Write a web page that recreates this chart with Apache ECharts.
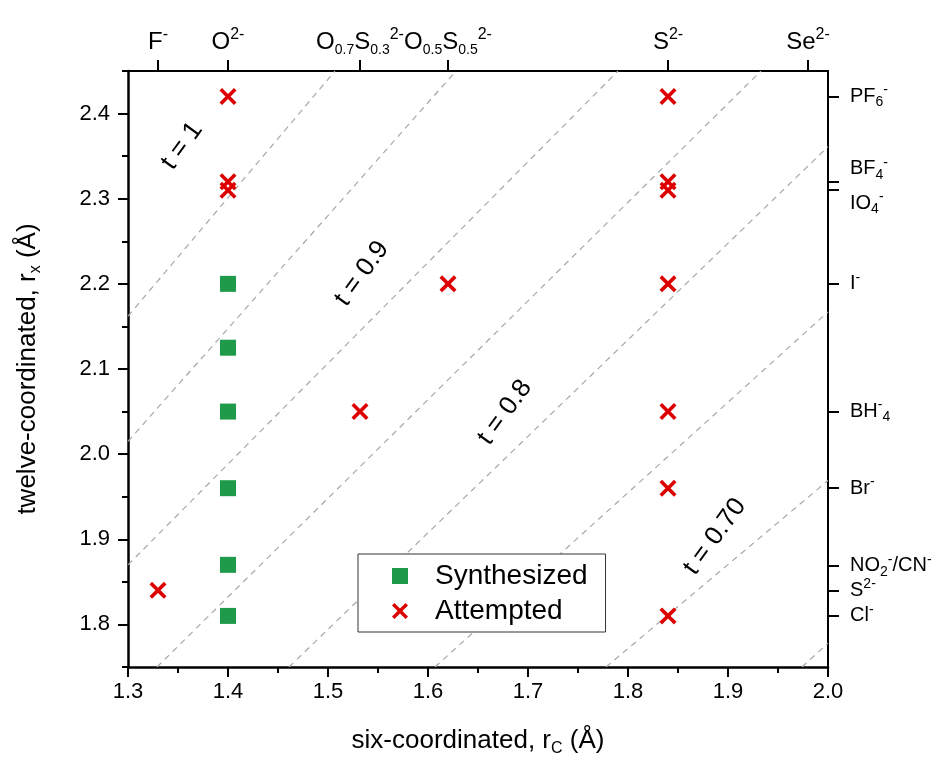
<!DOCTYPE html>
<html>
<head>
<meta charset="utf-8">
<script src="https://cdn.jsdelivr.net/npm/echarts@6/dist/echarts.min.js"></script>
<style>
  html, body { margin: 0; padding: 0; background: #fff; }
  #chart { width: 943px; height: 762px; }
</style>
</head>
<body>
<div id="chart"></div>
<script>
// synthesized / attempted compounds (six-coordinated r_C, twelve-coordinated r_x)
var synthX = [1.40, 1.40, 1.40, 1.40, 1.40, 1.40];
var synthY = [2.20, 2.125, 2.05, 1.96, 1.87, 1.81];
var attX = [1.40, 1.40, 1.40, 1.84, 1.84, 1.84, 1.84, 1.84, 1.84, 1.84, 1.62, 1.532, 1.33];
var attY = [2.42, 2.32, 2.31, 2.42, 2.32, 2.31, 2.20, 2.05, 1.96, 1.81, 2.20, 2.05, 1.84];

// tolerance factor guide lines
var guideStart = [[1.3, 2.162], [1.3, 2.015], [1.3, 1.870], [1.329, 1.75], [1.461, 1.75], [1.607, 1.75], [1.778, 1.75], [1.974, 1.75]];
var guideEnd = [[1.507, 2.45], [1.628, 2.45], [1.790, 2.45], [1.933, 2.45], [2.0, 2.361], [2.0, 2.167], [2.0, 1.969], [2.0, 1.778]];

// guide line labels
var tText = ['t = 1', 't = 0.9', 't = 0.8', 't = 0.70'];
var tPos = [[1.354, 2.362], [1.534, 2.212], [1.677, 2.049], [1.887, 1.903]];

// axes
var xMajor = [1.3, 1.4, 1.5, 1.6, 1.7, 1.8, 1.9, 2.0];
var xMinor = [1.35, 1.45, 1.55, 1.65, 1.75, 1.85, 1.95];
var yMajor = [1.8, 1.9, 2.0, 2.1, 2.2, 2.3, 2.4];
var yMinor = [1.75, 1.85, 1.95, 2.05, 2.15, 2.25, 2.35, 2.45];

var topVals = [1.33, 1.40, 1.532, 1.62, 1.84, 1.98];
var topLabels = ['F{sup|-}', 'O{sup|2-}', 'O{sub|0.7}S{sub|0.3}{sup|2-}', 'O{sub|0.5}S{sub|0.5}{sup|2-}', 'S{sup|2-}', 'Se{sup|2-}'];

var rightVals = [1.81, 1.84, 1.869, 1.96, 2.05, 2.20, 2.31, 2.32, 2.42];
var rightLabels = ['Cl{sup|-}', 'S{sup|2-}', 'NO{sub|2}{sup|-}/CN{sup|-}', 'Br{sup|-}', 'BH{sup|-}{sub|4}', 'I{sup|-}', ' \nIO{sub|4}{sup|-}', 'BF{sub|4}{sup|-}\n ', 'PF{sub|6}{sup|-}'];

function pick(vals, labels, v) {
    for (var i = 0; i < vals.length; i++) {
        if (Math.abs(vals[i] - v) < 1e-6) return labels[i];
    }
    return '';
}

// S2- sits too close to Cl- for one axis, so its label goes on a second right axis
var rightMain = rightVals.filter(function (v, i) { return i !== 1; });
var rightExtra = [rightVals[1]];

var crossPath = 'path://M0,3 L3,0 L10,7 L17,0 L20,3 L13,10 L20,17 L17,20 L10,13 L3,20 L0,17 L7,10 Z';
var font = '"Liberation Sans", Arial, sans-serif';

var synthData = synthX.map(function (x, i) { return [x, synthY[i]]; });
var attData = attX.map(function (x, i) { return [x, attY[i]]; });

var series = [];
guideStart.forEach(function (p, i) {
    series.push({
        type: 'line',
        data: [p, guideEnd[i]],
        symbol: 'none',
        silent: true,
        z: 1,
        lineStyle: { color: '#a8a8a8', width: 1.2, type: [6, 5] }
    });
});
series.push({
    type: 'scatter',
    data: tPos.map(function (p, i) { return { value: p, label: { formatter: tText[i] } }; }),
    symbolSize: 1,
    silent: true,
    itemStyle: { color: 'rgba(0,0,0,0)', opacity: 1 },
    label: { show: true, position: 'inside', rotate: 54, fontSize: 26, color: '#000', opacity: 1, fontFamily: font },
    z: 3
});
series.push({
    name: 'Synthesized',
    type: 'scatter',
    data: synthData,
    symbol: 'rect',
    symbolSize: 16,
    itemStyle: { color: '#1f9a4b', opacity: 1 },
    z: 5
});
series.push({
    name: 'Attempted',
    type: 'scatter',
    data: attData,
    symbol: crossPath,
    symbolSize: 17,
    itemStyle: { color: '#dd0000', opacity: 1 },
    z: 6
});

var rightRich = {
    sup: { fontSize: 14, verticalAlign: 'top', lineHeight: 26, fontFamily: font },
    sub: { fontSize: 14, verticalAlign: 'bottom', lineHeight: 26, fontFamily: font }
};

var chart = echarts.init(document.getElementById('chart'));
var option = {
    animation: false,
    backgroundColor: '#fff',
    textStyle: { fontFamily: font },
    grid: { left: 128, right: 115, top: 71, bottom: 94 },
    legend: {
        orient: 'vertical',
        left: 358,
        top: 554,
        padding: [8, 18, 7, 34],
        itemGap: 7,
        itemWidth: 16,
        itemHeight: 16,
        borderColor: '#333',
        borderWidth: 1,
        backgroundColor: '#fff',
        textStyle: { fontSize: 28, color: '#000', fontFamily: font, padding: [0, 0, 0, 22] },
        data: [
            { name: 'Synthesized', icon: 'rect' },
            { name: 'Attempted', icon: crossPath }
        ]
    },
    xAxis: [
        {
            type: 'value', position: 'bottom', min: 1.3, max: 2.0,
            splitLine: { show: false },
            axisLine: { onZero: false, lineStyle: { color: '#000', width: 2.5 } },
            axisTick: { customValues: xMajor, length: 10, lineStyle: { color: '#000', width: 2 } },
            axisLabel: {
                customValues: xMajor, fontSize: 22, color: '#000', margin: 14, fontFamily: font,
                showMinLabel: true, showMaxLabel: true,
                formatter: function (v) { return v.toFixed(1); }
            },
            name: 'six-coordinated, r{sub|C} (Å)',
            nameLocation: 'middle',
            nameGap: 58,
            nameTextStyle: {
                fontSize: 26, color: '#000', fontFamily: font, lineHeight: 32,
                rich: { sub: { fontSize: 16, verticalAlign: 'bottom', lineHeight: 32 } }
            }
        },
        {
            type: 'value', position: 'bottom', min: 1.3, max: 2.0,
            splitLine: { show: false },
            axisLine: { show: false, onZero: false },
            axisTick: { customValues: xMinor, length: 6, lineStyle: { color: '#000', width: 2 } },
            axisLabel: { show: false }
        },
        {
            type: 'value', position: 'top', min: 1.3, max: 2.0,
            splitLine: { show: false },
            axisLine: { onZero: false, lineStyle: { color: '#000', width: 2 } },
            axisTick: { customValues: topVals, length: 11, lineStyle: { color: '#000', width: 2 } },
            axisLabel: {
                customValues: topVals, fontSize: 24, color: '#000', margin: 14, lineHeight: 30, fontFamily: font,
                showMinLabel: true, showMaxLabel: true,
                formatter: function (v) { return pick(topVals, topLabels, v); },
                rich: {
                    sup: { fontSize: 16, verticalAlign: 'top', lineHeight: 30, fontFamily: font },
                    sub: { fontSize: 14, verticalAlign: 'bottom', lineHeight: 30, fontFamily: font }
                }
            }
        }
    ],
    yAxis: [
        {
            type: 'value', position: 'left', min: 1.75, max: 2.45,
            splitLine: { show: false },
            axisLine: { show: true, onZero: false, lineStyle: { color: '#000', width: 2.5 } },
            axisTick: { show: true, customValues: yMajor, length: 10, lineStyle: { color: '#000', width: 2 } },
            axisLabel: {
                customValues: yMajor, fontSize: 22, color: '#000', margin: 18, fontFamily: font,
                showMinLabel: true, showMaxLabel: true,
                formatter: function (v) { return v.toFixed(1); }
            },
            name: 'twelve-coordinated, r{sub|x} (Å)',
            nameLocation: 'middle',
            nameGap: 84,
            nameTextStyle: {
                fontSize: 26, color: '#000', fontFamily: font, lineHeight: 32,
                rich: { sub: { fontSize: 16, verticalAlign: 'bottom', lineHeight: 32 } }
            }
        },
        {
            type: 'value', position: 'left', min: 1.75, max: 2.45,
            splitLine: { show: false },
            axisLine: { show: false, onZero: false },
            axisTick: { show: true, customValues: yMinor, length: 6, lineStyle: { color: '#000', width: 2 } },
            axisLabel: { show: false }
        },
        {
            type: 'value', position: 'right', min: 1.75, max: 2.45,
            splitLine: { show: false },
            axisLine: { show: true, onZero: false, lineStyle: { color: '#000', width: 2 } },
            axisTick: { show: true, customValues: rightVals, length: 11, lineStyle: { color: '#000', width: 2 } },
            axisLabel: {
                customValues: rightMain, fontSize: 20, color: '#000', margin: 22, lineHeight: 26, fontFamily: font,
                showMinLabel: true, showMaxLabel: true, hideOverlap: false,
                formatter: function (v) { return pick(rightVals, rightLabels, v); },
                rich: rightRich
            }
        },
        {
            type: 'value', position: 'right', min: 1.75, max: 2.45,
            splitLine: { show: false },
            axisLine: { show: false, onZero: false },
            axisTick: { show: false },
            axisLabel: {
                customValues: rightExtra, fontSize: 20, color: '#000', margin: 22, lineHeight: 26, fontFamily: font,
                showMinLabel: true, showMaxLabel: true, hideOverlap: false,
                formatter: function (v) { return pick(rightVals, rightLabels, v); },
                rich: rightRich
            }
        }
    ],
    series: series
};
chart.setOption(option);
</script>
</body>
</html>
